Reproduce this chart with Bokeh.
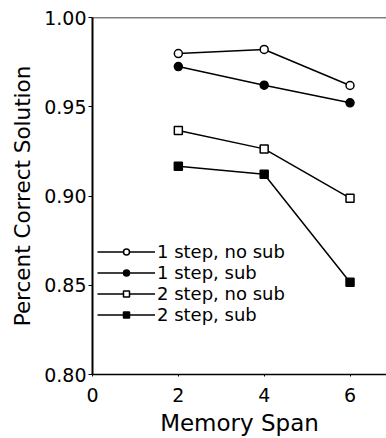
from bokeh.plotting import figure
from bokeh.models import Legend, LegendItem, Span, FixedTicker, NumeralTickFormatter, Range1d
from bokeh.embed import file_html
from bokeh.resources import INLINE

memory_span = [2, 4, 6]
one_step_no_sub = [0.9798, 0.9821, 0.9619]
one_step_sub = [0.9725, 0.9621, 0.9522]
two_step_no_sub = [0.9367, 0.9264, 0.8988]
two_step_sub = [0.9167, 0.9122, 0.8517]
series_labels = ["1 step, no sub", "1 step, sub", "2 step, no sub", "2 step, sub"]
x_ticks = [0, 2, 4, 6]
y_ticks = [0.80, 0.85, 0.90, 0.95, 1.00]

FONT = "DejaVu Sans"

p = figure(width=386, height=438, output_backend="svg", toolbar_location=None,
           x_range=Range1d(0, 6.85), y_range=Range1d(0.80, 1.00),
           min_border_left=92, min_border_right=0, min_border_top=17, min_border_bottom=40)
p.title.visible = False
p.outline_line_color = None
p.xgrid.visible = False
p.ygrid.visible = False
p.background_fill_color = "white"

for ax in (p.xaxis[0], p.yaxis[0]):
    ax.axis_line_color = "black"
    ax.major_tick_line_color = "black"
    ax.minor_tick_line_color = None
    ax.major_label_text_font = FONT
    ax.major_label_text_color = "black"
    ax.axis_label_text_font = FONT
    ax.axis_label_text_font_style = "normal"
    ax.axis_label_text_color = "black"

p.xaxis.ticker = FixedTicker(ticks=x_ticks)
p.yaxis.ticker = FixedTicker(ticks=y_ticks)
p.yaxis.formatter = NumeralTickFormatter(format="0.00")
p.xaxis.axis_label = "Memory Span"
p.yaxis.axis_label = "Percent Correct Solution"
p.xaxis.major_label_text_font_size = "19px"
p.yaxis.major_label_text_font_size = "19px"
p.xaxis.axis_label_text_font_size = "23px"
p.yaxis.axis_label_text_font_size = "21.5px"
p.yaxis.axis_line_width = 2
p.xaxis.axis_line_width = 1.5
p.yaxis.major_tick_out = 4
p.yaxis.major_tick_in = 0
p.xaxis.major_tick_out = 2
p.xaxis.major_tick_in = 0
p.yaxis.major_label_standoff = 2
p.xaxis.major_label_standoff = 11
p.xaxis.axis_label_standoff = 5
p.yaxis.axis_label_standoff = 6

p.add_layout(Span(location=1.0, dimension="width", line_color="black", line_width=1.5))

series = [one_step_no_sub, one_step_sub, two_step_no_sub, two_step_sub]
markers = ["circle", "circle", "square", "square"]
fills = ["white", "black", "white", "black"]
legend_offsets = [112, 91, 70, 49]  # one single-item legend per row, stacked tightly
for vals, mk, fc, lab, ly in zip(series, markers, fills, series_labels, legend_offsets):
    r1 = p.line(memory_span, vals, line_color="black", line_width=1.5)
    r2 = p.scatter(memory_span, vals, marker=mk, size=8, fill_color=fc,
                   line_color="black", line_width=1.5)
    lg = Legend(items=[LegendItem(label=lab, renderers=[r1, r2])], location=(5, ly),
                padding=0, margin=0, spacing=0,
                glyph_width=58, glyph_height=15, label_height=18, label_standoff=2,
                label_text_font=FONT, label_text_font_size="18px", label_text_color="black",
                border_line_color=None, background_fill_alpha=0)
    p.add_layout(lg)

open("out.html", "w").write(file_html(p, INLINE))
